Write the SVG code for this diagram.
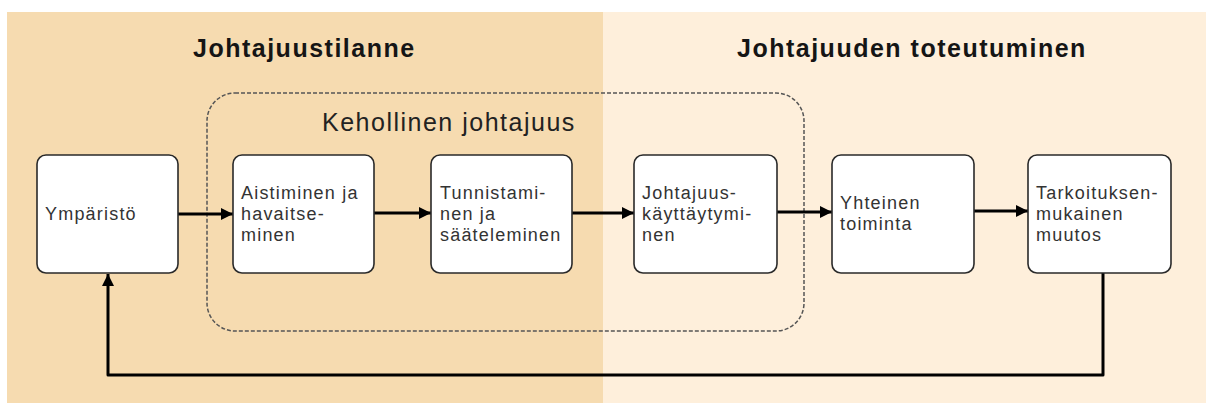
<svg xmlns="http://www.w3.org/2000/svg" width="1206" height="405" viewBox="0 0 1206 405">
  <style>
    .title { font-family: "Liberation Sans", Arial, sans-serif; font-size: 25px; font-weight: bold; fill: #151515; letter-spacing: 1.5px; }
    .sub { font-family: "Liberation Sans", Arial, sans-serif; font-size: 25px; fill: #222; letter-spacing: 1.5px; }
    .box { fill: #ffffff; stroke: #2a2a2a; stroke-width: 1.6; }
    .lbl { font-family: "Liberation Sans", Arial, sans-serif; font-size: 18px; fill: #333; letter-spacing: 1.2px; }
    .conn { fill: none; stroke: #000; stroke-width: 3; stroke-linejoin: round; }
  </style>
  <defs>
    <marker id="ah" viewBox="0 0 10 10" refX="10" refY="5" markerWidth="12" markerHeight="12" markerUnits="userSpaceOnUse" orient="auto">
      <path d="M0,0 L10,5 L0,10 z" fill="#000"/>
    </marker>
  </defs>

  <g id="background">
    <rect x="7" y="12" width="596" height="391" fill="#F6DBB0"/>
    <rect x="603" y="12" width="603" height="391" fill="#FEEFDB"/>
  </g>

  <g id="titles">
    <text class="title" x="193" y="57">Johtajuustilanne</text>
    <text class="title" x="737" y="57">Johtajuuden toteutuminen</text>
  </g>

  <g id="kehollinen">
    <rect x="207" y="93" width="597" height="238" rx="28" ry="28" fill="none" stroke="#555" stroke-width="1.5" stroke-dasharray="4 2"/>
    <text class="sub" x="322" y="131">Kehollinen johtajuus</text>
  </g>

  <g id="connectors">
    <line class="conn" x1="178" y1="214" x2="233" y2="214" marker-end="url(#ah)"/>
    <line class="conn" x1="374" y1="213" x2="431" y2="213" marker-end="url(#ah)"/>
    <line class="conn" x1="572" y1="213" x2="634" y2="213" marker-end="url(#ah)"/>
    <line class="conn" x1="777" y1="212" x2="832" y2="212" marker-end="url(#ah)"/>
    <line class="conn" x1="974" y1="211" x2="1028" y2="211" marker-end="url(#ah)"/>
    <path class="conn" d="M1103,273 L1103,375 L108,375 L108,274" marker-end="url(#ah)"/>
  </g>

  <g id="node-ymparisto">
    <rect class="box" x="37" y="155" width="141" height="118" rx="9"/>
    <text class="lbl" x="45" y="220">Ympäristö</text>
  </g>

  <g id="node-aistiminen">
    <rect class="box" x="233" y="155" width="141" height="118" rx="9"/>
    <text class="lbl" x="241" y="198.5">Aistiminen ja<tspan x="241" dy="21">havaitse-</tspan><tspan x="241" dy="21">minen</tspan></text>
  </g>

  <g id="node-tunnistaminen">
    <rect class="box" x="431" y="155" width="141" height="118" rx="9"/>
    <text class="lbl" x="440" y="198.5">Tunnistami-<tspan x="440" dy="21">nen ja</tspan><tspan x="440" dy="21">sääteleminen</tspan></text>
  </g>

  <g id="node-johtajuuskayttaytyminen">
    <rect class="box" x="634" y="155" width="143" height="118" rx="9"/>
    <text class="lbl" x="642" y="198.5">Johtajuus-<tspan x="642" dy="21">käyttäytymi-</tspan><tspan x="642" dy="21">nen</tspan></text>
  </g>

  <g id="node-yhteinen">
    <rect class="box" x="832" y="155" width="142" height="118" rx="9"/>
    <text class="lbl" x="840" y="209">Yhteinen<tspan x="840" dy="21">toiminta</tspan></text>
  </g>

  <g id="node-tarkoituksenmukainen">
    <rect class="box" x="1028" y="155" width="143" height="118" rx="9"/>
    <text class="lbl" x="1036" y="198.5">Tarkoituksen-<tspan x="1036" dy="21">mukainen</tspan><tspan x="1036" dy="21">muutos</tspan></text>
  </g>
</svg>
